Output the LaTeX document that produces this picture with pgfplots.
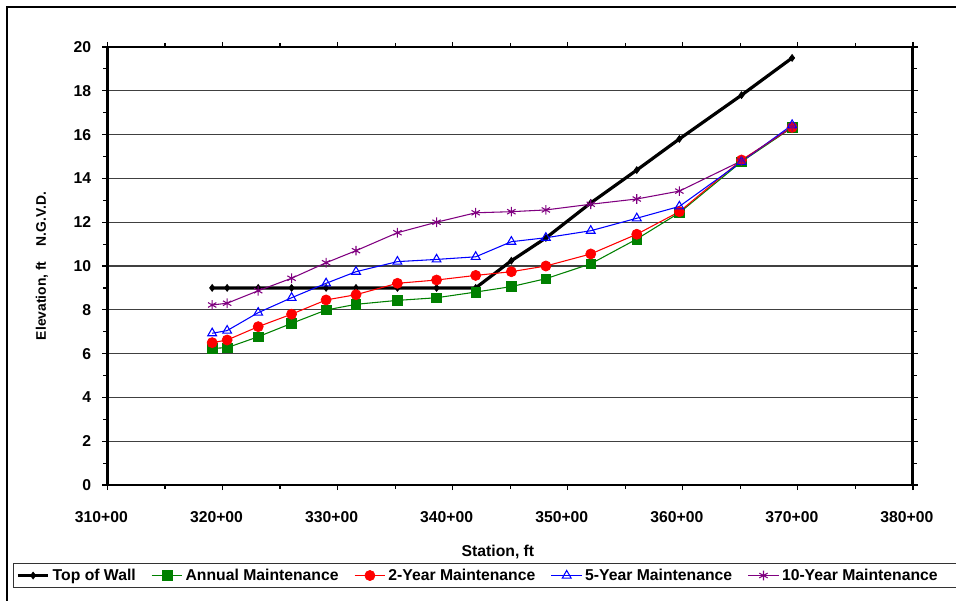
\documentclass[border=0pt]{standalone}
\usepackage{fontspec}
\setmainfont{Liberation Sans}
\usepackage{pgfplots}
\pgfplotsset{compat=1.18}
\definecolor{xlgreen}{RGB}{0,128,0}
\definecolor{xlpurple}{RGB}{128,0,128}
\definecolor{xlblue}{RGB}{0,0,255}
\definecolor{xlred}{RGB}{255,0,0}
\pgfplotstableread{
x     wall   annual  two    five   ten
319.1 9.00   6.24    6.50   6.93   8.22
320.4 9.00   6.27    6.62   7.05   8.30
323.1 9.00   6.77    7.23   7.87   8.87
326.0 9.00   7.38    7.80   8.55   9.44
329.0 9.00   7.99    8.45   9.21   10.15
331.6 9.00   8.25    8.69   9.74   10.70
335.2 9.00   8.43    9.21   10.20  11.52
338.6 9.00   8.55    9.36   10.30  12.00
342.0 9.00   8.81    9.57   10.42  12.43
345.1 10.24  9.06    9.74   11.11  12.48
348.1 11.28  9.42    10.00  11.29  12.56
352.0 12.88  10.10   10.55  11.61  12.82
356.0 14.38  11.23   11.45  12.18  13.06
359.7 15.80  12.43   12.48  12.72  13.42
365.1 17.80  14.76   14.84  14.76  14.80
369.5 19.50  16.32   16.33  16.44  16.36
}\datatable
\begin{document}
\begin{tikzpicture}
\useasboundingbox (0pt,0pt) rectangle (717pt,450pt);
\clip (0pt,0pt) rectangle (717pt,450pt);
\draw[line width=1.6pt] (5.25pt,-10pt) -- (5.25pt,444.75pt) -- (740pt,444.75pt);
\begin{axis}[
  at={(80.6pt,86.25pt)}, anchor=south west,
  scale only axis, width=604.1pt, height=328.5pt,
  xmin=310, xmax=380, ymin=0, ymax=20,
  xtick={310,320,...,380},
  xticklabels={310+00,320+00,330+00,340+00,350+00,360+00,370+00,380+00},
  minor xtick={315,325,...,375},
  ytick={0,2,...,20}, minor ytick={1,3,...,19},
  ymajorgrids,
  major grid style={black!75, line width=0.8pt},
  tick align=outside,
  major tick length=3.75pt, minor tick length=3pt,
  tick style={black, line width=0.9pt},
  axis line style={line width=2.2pt},
  /pgf/number format/assume math mode=true,
  every tick label/.append style={font=\fontsize{11.8}{14}\selectfont\bfseries},
  xticklabel style={xshift=-4.5pt, yshift=-12.5pt},
  yticklabel style={xshift=-5pt},
  xlabel={Station, ft},
  ylabel={Elevation, ft\hspace{1.1em}N.G.V.D.},
  label style={font=\fontsize{11.8}{14}\selectfont\bfseries},
  xlabel style={at={(axis description cs:0.4848,-0.153)}, anchor=center},
  ylabel style={at={(axis description cs:-0.0813,0.5)}, anchor=center, rotate=0, font=\fontsize{10.4}{12}\selectfont\bfseries},
  legend columns=5,
  legend style={at={(axis description cs:-0.1173,-0.178)}, anchor=north west,
    draw=black!80, line width=0.8pt, inner xsep=2pt, inner ysep=2pt,
    font=\fontsize{11.8}{14}\selectfont\bfseries,
    /tikz/every even column/.append style={column sep=9.6pt}},
  legend cell align=left,
  legend image code/.code={\draw[mark repeat=2,mark phase=2] plot coordinates {(0pt,0pt)(11.5pt,0pt)(23pt,0pt)};},
  clip=false,
]
\addplot[black, line width=2.4pt, mark=diamond*, mark size=2.6pt, mark options={line width=0.5pt, fill=black}] table[x=x,y=wall] {\datatable};
\addlegendentry{Top of Wall}
\addplot[xlgreen, line width=0.8pt, mark=square*, mark size=3.6pt, mark options={fill=xlgreen, line width=0.5pt}] table[x=x,y=annual] {\datatable};
\addlegendentry{Annual Maintenance}
\addplot[xlred, line width=0.8pt, mark=*, mark size=3.8pt, mark options={fill=xlred, line width=0.5pt}] table[x=x,y=two] {\datatable};
\addlegendentry{2-Year Maintenance}
\addplot[xlblue, line width=0.8pt, mark=triangle, mark size=3.8pt, mark options={fill=white, line width=0.8pt}] table[x=x,y=five] {\datatable};
\addlegendentry{5-Year Maintenance}
\addplot[xlpurple, line width=0.8pt, mark=asterisk, mark size=3.6pt, mark options={line width=0.8pt}] table[x=x,y=ten] {\datatable};
\addlegendentry{10-Year Maintenance\hspace*{25pt}\mbox{}}
\draw[line width=2.2pt] (rel axis cs:0,1) -- (rel axis cs:1,1) -- (rel axis cs:1,0);
\end{axis}
\end{tikzpicture}
\end{document}
